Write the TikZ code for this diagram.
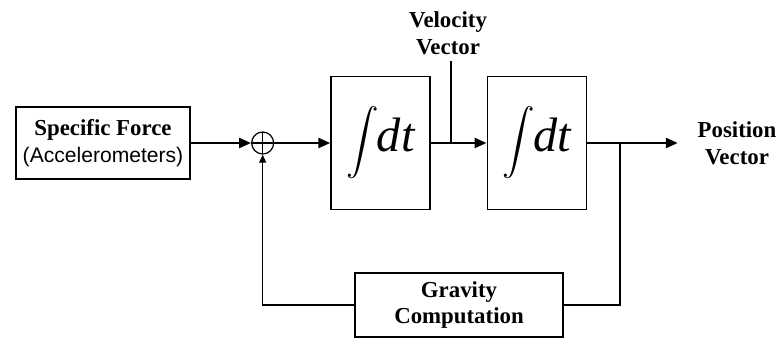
\documentclass[tikz,border=0pt]{standalone}
\usepackage{graphicx}
\usepackage{fontspec}
\setmainfont{Liberation Serif}
\newfontfamily\arialfont{Liberation Sans}
\usetikzlibrary{arrows.meta,positioning}

\begin{document}
\begin{tikzpicture}[
  node distance=1.12cm,
  thickbox/.style={draw, line width=1.2pt, align=center, font=\fontsize{13}{15}\selectfont\bfseries},
  intbox/.style={draw, line width=0.7pt, minimum width=1.98cm, minimum height=2.66cm, inner sep=0pt},
  summer/.style={draw, circle, line width=0.7pt, minimum size=0.44cm, inner sep=0pt,
    path picture={\draw[line width=0.7pt] (path picture bounding box.north) -- (path picture bounding box.south)
      (path picture bounding box.west) -- (path picture bounding box.east);}},
  tag/.style={align=center, font=\fontsize{13}{15.5}\selectfont\bfseries},
  arrow/.style={-{Triangle[length=2.4mm, width=2mm]}, line width=1.4pt},
  fb/.style={line width=0.7pt}
]
\useasboundingbox (0,0) rectangle (15.58,-6.8);
\node[thickbox, minimum width=3.48cm, minimum height=1.44cm] (force) at (2.06,-2.86)
  {Specific Force\\{\arialfont\mdseries\fontsize{12}{14}\selectfont(Accelerometers)}};
\node[summer, right=1.2cm of force] (sum) {};
\node[intbox, right=of sum] (int1) {\scalebox{1.85}{$\displaystyle\int$}\kern-1pt{\fontsize{27.5}{30}\selectfont\itshape dt}};
\node[intbox, right=of int1] (int2) {\scalebox{1.85}{$\displaystyle\int$}\kern-1pt{\fontsize{27.5}{30}\selectfont\itshape dt}};
\node[tag] (vel) at (8.96,-0.66) {Velocity\\Vector};
\node[tag, inner xsep=0.39cm] (pos) at (14.74,-2.86) {Position\\Vector};
\node[thickbox, minimum width=4.16cm, minimum height=1.28cm] (grav) at (9.18,-6.10) {Gravity\\Computation};
\coordinate (vtap) at (9.02,-2.86);
\coordinate (tap) at (12.40,-2.86);
% forward path
\draw[arrow] (force) -- (sum);
\draw[arrow] (sum) -- (int1);
\draw[arrow] (int1) -- (int2);
\draw[arrow] (int2) -- (pos);
\draw[line width=0.6pt] (vtap) -- (vtap |- vel.south);
% gravity feedback
\draw[fb] (tap) |- (grav);
\draw[fb, -{Triangle[length=1.6mm, width=1.4mm]}] (grav) -| (sum);
\end{tikzpicture}
\end{document}
